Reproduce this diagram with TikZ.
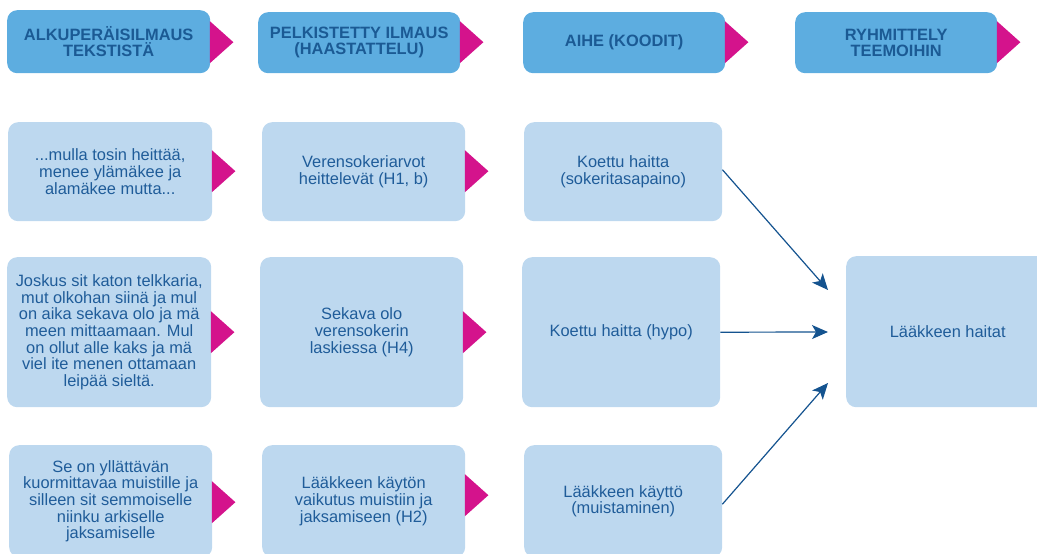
\documentclass[tikz,border=0pt]{standalone}
\usepackage{fontspec}
\setmainfont{Liberation Sans}
\usetikzlibrary{arrows.meta,calc}
\definecolor{hdrfill}{HTML}{5DADE0}
\definecolor{bodyfill}{HTML}{BDD8EF}
\definecolor{txt}{HTML}{1F5C99}
\definecolor{hdrtxt}{HTML}{1B5A94}
\definecolor{mag}{HTML}{D4138C}
\definecolor{arrcol}{HTML}{14538F}
\begin{document}
\begin{tikzpicture}[x=1pt,y=-1pt,
  box/.style={rectangle,rounded corners=10pt,anchor=north west,inner sep=0pt,align=center,text=txt},
  hdr/.style={box,fill=hdrfill,text=hdrtxt,font=\fontsize{16.4}{16}\selectfont\bfseries},
  bodybox/.style={box,fill=bodyfill,font=\fontsize{16.4}{16.6}\selectfont},
  tri/.style={fill=mag},
  arrowline/.style={draw=arrcol,line width=1.2pt,-{Stealth[length=16pt,width=14pt,inset=4pt]}}]
\useasboundingbox (0,0) rectangle (1037,554);
% headers
\node[hdr,minimum width=203pt,minimum height=63pt] (h1) at (7,10) {ALKUPERÄISILMAUS\\TEKSTISTÄ};
\node[hdr,minimum width=202pt,minimum height=61pt] (h2) at (258,12) {PELKISTETTY ILMAUS\\(HAASTATTELU)};
\node[hdr,minimum width=202pt,minimum height=61pt] (h3) at (523,12) {AIHE (KOODIT)};
\node[hdr,minimum width=202pt,minimum height=61pt] (h4) at (795,12) {RYHMITTELY\\TEEMOIHIN};
% row 1
\node[bodybox,minimum width=204pt,minimum height=99pt] (a1) at (8,122) {...mulla tosin heittää,\\menee ylämäkee ja\\alamäkee mutta...};
\node[bodybox,minimum width=203pt,minimum height=99pt] (b1) at (262,122) {Verensokeriarvot\\heittelevät (H1, b)};
\node[bodybox,minimum width=198pt,minimum height=99pt] (c1) at (524,122) {Koettu haitta\\(sokeritasapaino)};
% row 2
\node[bodybox,minimum width=204pt,minimum height=150pt] (a2) at (7,257) {Joskus sit katon telkkaria,\\mut olkohan siinä ja mul\\on aika sekava olo ja mä\\meen mittaamaan. Mul\\on ollut alle kaks ja mä\\viel ite menen ottamaan\\leipää sieltä.};
\node[bodybox,minimum width=203pt,minimum height=150pt] (b2) at (260,257) {Sekava olo\\verensokerin\\laskiessa (H4)};
\node[bodybox,minimum width=198pt,minimum height=150pt] (c2) at (522,257) {Koettu haitta (hypo)};
\node[bodybox,minimum width=203pt,minimum height=151pt] (d) at (846,256) {Lääkkeen haitat};
% row 3
\node[bodybox,minimum width=203pt,minimum height=112pt] (a3) at (9,445) {Se on yllättävän\\kuormittavaa muistille ja\\silleen sit semmoiselle\\niinku arkiselle\\jaksamiselle};
\node[bodybox,minimum width=203pt,minimum height=112pt] (b3) at (262,445) {Lääkkeen käytön\\vaikutus muistiin ja\\jaksamiseen (H2)};
\node[bodybox,minimum width=198pt,minimum height=112pt] (c3) at (524,445) {Lääkkeen käyttö\\(muistaminen)};
% triangles
\foreach \n/\dy in {h1/0.5,h2/-0.5,h3/-0.5,h4/-0.5,a1/-0.5,b1/-0.5,a2/0,b2/0,a3/1,b3/-6}{
  \fill[tri] ($(\n.east)+(-0.5,\dy-21)$) -- ($(\n.east)+(23,\dy)$) -- ($(\n.east)+(-0.5,\dy+21)$) -- cycle;
}
% arrow targets
\coordinate (t1) at (828,290);
\coordinate (t2) at (828,332);
\coordinate (t3) at (828,383);
\draw[arrowline] ($(c1.east)+(0,-2)$) -- (t1);
\draw[arrowline] (c2.east) -- (t2);
\draw[arrowline] ($(c3.east)+(0,3)$) -- (t3);
\end{tikzpicture}
\end{document}
